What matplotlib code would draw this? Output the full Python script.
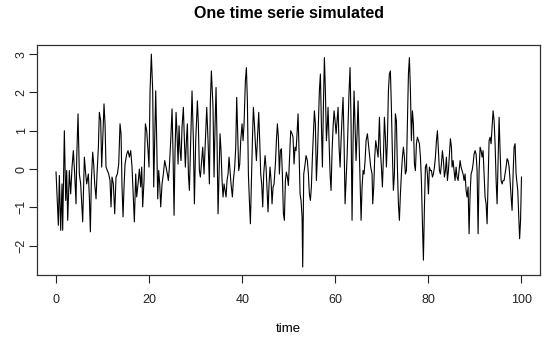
import matplotlib
matplotlib.use('Agg')
import matplotlib.pyplot as plt

# values (peaks / troughs of the simulated serie)
time = [
    0.00, 0.50, 0.72, 1.00, 1.29, 1.43, 1.79, 2.08, 2.29, 2.51, 2.86, 3.15, 3.44, 3.72, 4.01, 4.30,
    4.44, 4.73, 5.01, 5.30, 5.73, 6.09, 6.38, 6.59, 6.95, 7.16, 7.38, 7.59, 7.88, 8.09, 8.31, 8.60,
    8.81, 9.10, 9.31, 9.60, 9.81, 10.03, 10.31, 10.53, 10.74, 11.03, 11.32, 11.60, 11.82, 12.03, 12.32, 12.61,
    12.89, 13.18, 13.47, 13.75, 13.97, 14.18, 14.40, 14.61, 14.83, 15.19, 15.47, 15.76, 16.05, 16.33,
    16.62, 16.83, 17.12, 17.33, 17.62, 17.91, 18.19, 18.41, 18.62, 18.91, 19.20, 19.48, 19.77, 19.98,
    20.20, 20.48, 20.77, 20.99, 21.20, 21.42, 21.63, 21.85, 22.06, 22.28, 22.49, 22.78, 23.06, 23.35,
    23.64, 23.92, 24.14, 24.35, 24.64, 24.93, 25.14, 25.36, 25.57, 25.79, 26.00, 26.22, 26.43, 26.65,
    26.86, 27.07, 27.36, 27.58, 27.79, 28.01, 28.22, 28.44, 28.65, 28.94, 29.22, 29.51, 29.73, 30.01,
    30.37, 30.58, 30.80, 31.01, 31.23, 31.52, 31.80, 32.09, 32.38, 32.66, 32.95, 33.16, 33.38,
    33.73, 33.95, 34.16, 34.38, 34.59, 34.81, 35.02, 35.24, 35.45, 35.67, 35.88, 36.10, 36.31, 36.53,
    36.74, 36.96, 37.17, 37.39, 37.60, 37.89, 38.10, 38.39, 38.61, 38.82, 39.04, 39.25, 39.47, 39.68,
    39.97, 40.18, 40.40, 40.68, 40.90, 41.11, 41.33, 41.54, 41.76, 41.97, 42.19, 42.40, 42.62, 42.83,
    43.05, 43.26, 43.55, 43.76, 43.98, 44.19, 44.41, 44.62, 44.91, 45.12, 45.34, 45.55, 45.77, 45.98,
    46.20, 46.41, 46.63, 46.84, 47.13, 47.35, 47.56, 47.77, 47.99, 48.20, 48.42, 48.63, 48.85, 49.06,
    49.28, 49.49, 49.71, 49.92, 50.14, 50.42, 50.71,
    50.92, 51.14, 51.35, 51.57, 51.78, 52.00, 52.21, 52.43, 52.64, 52.86, 53.00, 53.22, 53.43, 53.72,
    54.00, 54.22, 54.43, 54.65, 54.86, 55.08, 55.29, 55.51, 55.72, 55.94, 56.15, 56.37, 56.58, 56.80,
    57.01, 57.23, 57.44, 57.66, 57.87, 58.09, 58.30, 58.44, 58.66, 58.88, 59.09, 59.31, 59.52, 59.74,
    59.95, 60.17, 60.38, 60.60, 60.81, 61.03, 61.24, 61.45, 61.67, 61.88, 62.10, 62.31, 62.53, 62.74,
    62.96, 63.17, 63.39, 63.60, 63.82, 64.03, 64.25, 64.46, 64.68, 64.89, 65.11, 65.32, 65.54, 65.75,
    65.97, 66.18, 66.40, 66.61, 66.90, 67.11, 67.33, 67.61, 67.90,
    68.04, 68.26, 68.47, 68.69, 68.90, 69.19, 69.48, 69.69, 69.91, 70.12, 70.34, 70.55, 70.77, 70.98,
    71.19, 71.41, 71.62, 71.84, 72.05, 72.27, 72.48, 72.70, 72.91, 73.13, 73.34, 73.56, 73.77, 73.99,
    74.20, 74.42, 74.63, 74.85, 75.06, 75.28, 75.49, 75.71, 75.92, 76.14, 76.35, 76.57, 76.78, 77.00,
    77.21, 77.43, 77.64, 77.86, 78.07, 78.29, 78.50, 78.72, 78.93, 79.15, 79.36, 79.58, 79.79, 80.01,
    80.22, 80.44, 80.65, 80.87, 81.08, 81.30, 81.51, 81.73, 81.94, 82.15, 82.37, 82.58, 82.80, 83.01,
    83.23, 83.44, 83.66, 83.87, 84.09, 84.30, 84.52, 84.73, 84.95,
    85.09, 85.30, 85.52, 85.73, 85.95, 86.16, 86.38, 86.59, 86.81, 87.02, 87.24, 87.45, 87.67, 87.88,
    88.10, 88.31, 88.53, 88.74, 88.96, 89.17, 89.39, 89.60, 89.82, 90.03, 90.25, 90.46, 90.68, 90.89,
    91.11, 91.32, 91.54, 91.75, 91.97, 92.18, 92.40, 92.61, 92.83, 93.04, 93.26, 93.47, 93.69, 93.90,
    94.12, 94.33, 94.55, 94.76, 94.98, 95.19, 95.40, 95.62, 95.83, 96.05, 96.26, 96.48, 96.69, 96.91,
    97.12, 97.34, 97.55, 97.77, 97.98, 98.20, 98.41, 98.63, 98.84, 99.06, 99.20, 99.40, 99.60, 99.80,
    100.00,
]
serie = [
    -0.08, -1.47, -0.17, -1.60, -0.39, -1.60, 1.00, -0.82, -0.04, -1.34, -0.04, -0.65, 0.05, 0.48, -0.13, -0.91,
    0.27, 1.44, -0.13, -0.39, -1.38, 0.31, -0.13, -0.39, -0.13, -0.73, -1.64, -0.30, 0.44, 0.13, -0.39, -0.78,
    -0.13, 0.57, 1.48, 1.26, 0.05, 0.74, 1.70, 1.18, 0.05, -0.04, -0.13, -0.30, -0.99, -0.21, -0.39, -1.17,
    -0.21, -0.13, 0.13, 1.18, 0.92, -0.47, -1.25, -0.47, 0.13, 0.39, 0.48, 0.31, 0.48, 0.05,
    -0.82, -1.38, -0.13, -0.73, -0.39, 0.00, -0.47, 0.05, -0.99, -0.30, 1.18, 1.00, 0.48, 0.05,
    2.04, 3.00, 2.04, -0.47, 0.74, 2.04, 0.74, -0.78, -0.04, -0.39, -0.99, -0.39, -0.13, 0.22,
    0.05, -0.13, -0.30, 0.05, 0.74, 1.57, 0.39, -1.21, 0.48, 1.48, 0.92, 0.13, 1.13, 0.48,
    0.22, 1.09, 1.61, 0.74, 0.05, 0.74, 1.18, -0.13, -0.56, 0.74, 2.04, 0.74, -0.91, 0.74,
    1.78, 1.18, -0.04, -0.21, 0.13, 0.57, -0.13, 0.74, 1.61, 0.74, -0.39, 1.78, 2.56,
    1.61, -0.21, 1.09, 2.13, 0.74, -1.17, -0.13, 0.92, 0.48, -0.30, -0.73, -0.39, -0.56, -0.73,
    -0.30, -0.13, 0.31, -0.04, -0.39, -0.73, -0.30, 0.05, 0.57, 1.87, 0.92, -0.04, 0.13, 0.74,
    1.18, 0.74, 1.18, 2.30, 2.65, 1.78, -0.13, -0.82, -1.43, -0.39, 0.74, 1.61, 1.18, 0.66,
    0.22, 0.74, 1.48, 0.74, -0.13, -0.39, -0.99, -0.13, 0.35, 0.05, -0.56, -1.12, -0.39, 0.05,
    -0.30, -0.91, -0.47, -0.39, 0.13, 0.74, 1.18, 0.83, -0.13, 0.48, 0.53, -0.13, -1.17, -1.34,
    -0.30, -0.08, -0.21, -0.43, 0.22, 1.00, 0.92,
    0.83, 0.13, 0.57, 0.48, 0.92, 1.44, 0.48, -0.65, -0.82, -1.25, -2.56, -0.13, 0.05, 0.35,
    0.22, -0.13, -0.65, -0.82, -0.47, 0.31, 0.92, 1.52, 1.18, -0.30, 0.31, 1.18, 2.04, 2.48,
    1.18, 0.05, 1.61, 2.91, 2.04, 0.74, 1.18, 1.61, 0.74, -0.13, -0.56, 0.48, 1.09, 1.52,
    1.26, 0.92, 1.26, 1.61, 0.57, 0.05, 0.74, 1.35, 1.87, 0.74, -0.91, -0.30, 0.31, 1.18,
    2.04, 2.65, 1.18, -1.34, 0.74, 2.04, 1.09, 0.22, 0.92, 1.78, 0.74, -0.30, -1.34, -0.47,
    -0.04, -0.13, 0.22, 0.74, 0.92, 0.66, 0.39, 0.05, -0.13,
    -0.91, -0.47, 0.31, 0.74, 0.57, 0.31, 1.35, 0.48, 0.05, -0.47, 0.31, 1.35, 0.83, 0.05,
    0.74, 2.04, 2.48, 2.56, 1.61, 0.39, -0.56, -0.13, 1.44, 1.26, 0.05, -0.91, -1.34, -0.65,
    -0.13, 0.31, 0.57, 0.31, -0.13, -0.04, 1.18, 2.48, 2.91, 2.04, 0.74, 1.52, 1.18, 0.13,
    -0.04, 0.66, 0.83, 0.74, 0.66, 0.31, -0.30, -1.43, -2.38, -0.99, 0.05, 0.13, -0.13, -0.65,
    0.05, -0.04, -0.04, -0.21, -0.13, 0.05, 0.31, 0.74, 1.00, 0.48, -0.04, -0.13, 0.13, 0.48,
    0.22, -0.21, -0.04, 0.31, -0.30, -0.04, 0.39, 0.79, 0.57,
    0.05, 0.22, -0.04, -0.30, 0.05, -0.21, -0.30, -0.04, 0.22, 0.05, -0.04, -0.13, -0.30, -0.13,
    -0.56, -0.73, -0.47, -1.69, -0.65, -0.13, -0.04, 0.13, 0.39, 0.48, 0.39, -0.04, -1.69, -0.04,
    0.57, 0.48, 0.31, 0.48, -0.13, -0.73, -0.91, -1.43, -0.30, 0.74, 0.83, 0.66, 1.09, 1.52,
    1.26, 0.66, -0.30, -0.91, 0.31, 1.35, 0.48, -0.30, -0.39, -0.30, -0.30, -0.13, 0.05, 0.27,
    0.22, 0.05, -0.30, -0.73, -1.08, -0.13, 0.57, 0.66, -0.13, -0.39, -0.56, -1.17, -1.82, -1.34,
    -0.21,
]
xticks = [0, 20, 40, 60, 80, 100]
yticks = [-2, -1, 0, 1, 2, 3]

plt.rcParams['font.family'] = ['Liberation Sans', 'DejaVu Sans']

fig = plt.figure(figsize=(5.5, 3.43), dpi=100)
ax = fig.add_axes([0.068, 0.198, 0.914, 0.671])
ax.plot(time, serie, color='black', linewidth=0.8)

ax.set_xlim(-4, 104)
ax.set_ylim(-2.77, 3.24)
ax.set_xticks(xticks)
ax.set_yticks(yticks)
ax.tick_params(length=5.5, width=0.8, labelsize=9, colors='#222222')
ax.tick_params(axis='x', pad=8)
ax.tick_params(axis='y', pad=1.5)
for lab in ax.get_yticklabels():
    lab.set_rotation(90)
    lab.set_va('center')
for s in ax.spines.values():
    s.set_linewidth(0.9)
    s.set_color('#333333')

ax.set_xlabel('time', fontsize=9.5, labelpad=12)
fig.text(0.525, 0.962, 'One time serie simulated', ha='center', va='center',
         fontsize=11.5, fontweight='bold')

plt.savefig('out.png', dpi=100)
plt.close()
